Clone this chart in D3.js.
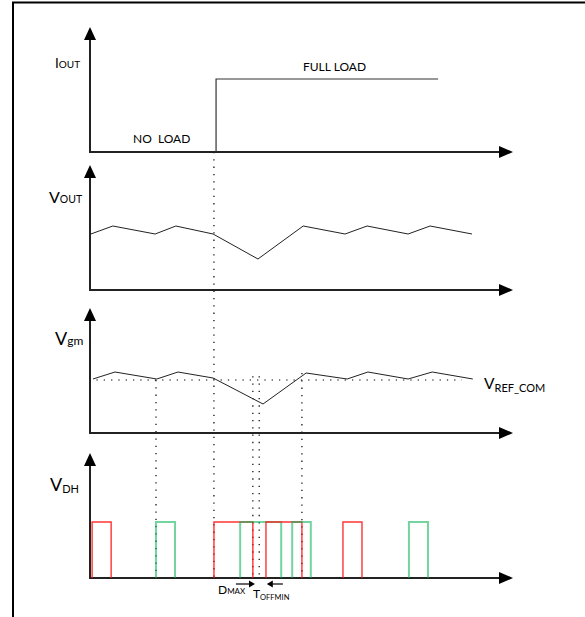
<!DOCTYPE html>
<html>
<head>
<meta charset="utf-8">
<script src="https://cdn.jsdelivr.net/npm/d3@7"></script>
<style>
body { margin: 0; background: #fff; }
svg { display: block; font-family: Lato, "Open Sans", sans-serif; }
text { white-space: pre; }
</style>
</head>
<body>
<svg id="chart" width="585" height="617"></svg>
<script>
// time is in arbitrary units (0..100), levels are 0..10 per panel
const iOutT = [29.8, 29.8, 82.3]
const iOutV = [0, 5.84, 5.84]

const vOutT = [0.2, 5.4, 15.4, 20.3, 29.1, 39.7, 50.4, 60.3, 65.5, 75.2, 80.4, 90.3]
const vOutV = [4.48, 5.12, 4.48, 5.12, 4.48, 2.48, 5.12, 4.48, 5.12, 4.48, 5.12, 4.48]

const vgmT = [0.7, 5.9, 15.8, 20.8, 29.1, 40.9, 51.1, 60.8, 65.7, 75.2, 80.9, 90.5]
const vgmV = [4.32, 4.88, 4.32, 4.88, 4.4, 2.32, 4.8, 4.32, 4.88, 4.32, 4.88, 4.32]
const vRef = 4.24
const vRefSpan = [-0.2, 87.9]

// DH pulses [start, end], drawn in time order
const pulses = [
	{ c: "red", s: 0.5, e: 5.0 },
	{ c: "green", s: 15.6, e: 20.1 },
	{ c: "red", s: 29.3, e: 38.5 },
	{ c: "green", s: 35.5, e: 45.2 },
	{ c: "red", s: 41.6, e: 50.1 },
	{ c: "green", s: 47.8, e: 52.2 },
	{ c: "red", s: 59.8, e: 64.3 },
	{ c: "green", s: 75.4, e: 79.9 }
]
const pulseHigh = 4.48

// dotted guide lines: time, and the panel/level they start from
const guides = [
	{ t: 15.6, from: "vgm", v: vRef },
	{ t: 29.3, from: "iout", v: 0 },
	{ t: 38.5, from: "vgm", v: 4.55 },
	{ t: 40.0, from: "vgm", v: 4.55 },
	{ t: 50.1, from: "vgm", v: 4.8 }
]

const dMaxArrow = [34.5, 39.0]
const tOffArrow = [45.6, 41.8]
const arrowLevel = -0.48

const svg = d3.select("#chart")

let x = d3.scaleLinear().domain([0, 100]).range([90, 513])

let baseY = { iout: 152, vout: 290, vgm: 433, vdh: 578 }
let y = {}
Object.keys(baseY).forEach(k => {
	y[k] = d3.scaleLinear().domain([0, 10]).range([baseY[k], baseY[k] - 125])
})

// frame
svg.append("line").attr("x1", 12).attr("x2", 585).attr("y1", 2.5).attr("y2", 2.5)
	.attr("stroke", "#000").attr("stroke-width", 2)
svg.append("line").attr("x1", 13).attr("x2", 13).attr("y1", 2).attr("y2", 617)
	.attr("stroke", "#000").attr("stroke-width", 2)

// dotted guides (behind everything)
let gGuide = svg.append("g")
guides.forEach(d => {
	gGuide.append("line")
		.attr("x1", x(d.t)).attr("x2", x(d.t))
		.attr("y1", y[d.from](d.v)).attr("y2", y.vdh(0))
		.attr("stroke", "#000")
		.attr("stroke-width", 1.2)
		.attr("stroke-dasharray", "1.3,6")
})

gGuide.append("line")
	.attr("x1", x(vRefSpan[0])).attr("x2", x(vRefSpan[1]))
	.attr("y1", y.vgm(vRef)).attr("y2", y.vgm(vRef))
	.attr("stroke", "#000")
	.attr("stroke-width", 1.2)
	.attr("stroke-dasharray", "1.3,6")

// axes
Object.keys(baseY).forEach(k => {
	let g = svg.append("g").attr("class", "axis")
	let y0 = y[k](0)
	let top = y[k](10)
	let tip = x(100)
	g.append("line").attr("x1", x(0)).attr("x2", tip - 6).attr("y1", y0).attr("y2", y0)
		.attr("stroke", "#222").attr("stroke-width", 2)
	g.append("line").attr("x1", x(0)).attr("x2", x(0)).attr("y1", y0 + 1).attr("y2", top + 6)
		.attr("stroke", "#222").attr("stroke-width", 2)
	g.append("path")
		.attr("d", `M${tip},${y0}L${tip - 14},${y0 - 6}L${tip - 14},${y0 + 6}Z`)
		.attr("fill", "#000")
	g.append("path")
		.attr("d", `M${x(0)},${top}L${x(0) - 6},${top + 13}L${x(0) + 6},${top + 13}Z`)
		.attr("fill", "#000")
})

// waveforms
let line = (yy) => d3.line().x(d => x(d[0])).y(d => yy(d[1]))

svg.append("path")
	.datum(d3.zip(iOutT, iOutV))
	.attr("d", line(y.iout))
	.attr("fill", "none").attr("stroke", "#333").attr("stroke-width", 1.2)

svg.append("path")
	.datum(d3.zip(vOutT, vOutV))
	.attr("d", line(y.vout))
	.attr("fill", "none").attr("stroke", "#222").attr("stroke-width", 1)

svg.append("path")
	.datum(d3.zip(vgmT, vgmV))
	.attr("d", line(y.vgm))
	.attr("fill", "none").attr("stroke", "#222").attr("stroke-width", 1)

// pulses
svg.append("g").selectAll("path")
	.data(pulses)
	.enter()
		.append("path")
		.attr("d", d => `M${x(d.s)},${y.vdh(0)}V${y.vdh(pulseHigh)}H${x(d.e)}V${y.vdh(0)}`)
		.attr("fill", "none")
		.attr("stroke", d => d.c == "red" ? "#ff1010" : "#00b050")
		.attr("stroke-opacity", d => d.c == "red" ? 0.85 : 0.55)
		.attr("stroke-width", d => d.c == "red" ? 1.4 : 2)

// Dmax / Toffmin arrows
function hArrow(from, to) {
	let yy = y.vdh(arrowLevel)
	let dir = to > from ? 1 : -1
	let xt = x(to)
	svg.append("line").attr("x1", x(from)).attr("x2", xt - dir * 4).attr("y1", yy).attr("y2", yy)
		.attr("stroke", "#000").attr("stroke-width", 1.2)
	svg.append("path")
		.attr("d", `M${xt},${yy}L${xt - dir * 6},${yy - 3.5}L${xt - dir * 6},${yy + 3.5}Z`)
		.attr("fill", "#000")
}
hArrow(dMaxArrow[0], dMaxArrow[1])
hArrow(tOffArrow[0], tOffArrow[1])

// labels
function label(px, py, main, sub, size, subSize, subDy) {
	let t = svg.append("text").attr("x", px).attr("y", py).attr("fill", "#000")
	t.append("tspan").attr("font-size", size).text(main)
	if (sub) t.append("tspan").attr("font-size", subSize).attr("dy", subDy || 0).text(sub)
	return t
}

label(55, 68, "I", "OUT", 13.5, 10, 0)
label(49, 203, "V", "OUT", 16, 10.5, 0)
label(55, 345, "V", "gm", 18, 12, 0)
label(50, 491, "V", "DH", 18, 11, 2)
label(484, 389, "V", "REF_COM", 15.5, 11, 3)
label(218, 594, "D", "MAX", 12, 8, 0)
label(253, 598, "T", "OFFMIN", 12, 7.5, 2)

svg.append("text").attr("x", 133).attr("y", 143).attr("font-size", 12).attr("fill", "#000")
	.text("NO  LOAD")
svg.append("text").attr("x", 303).attr("y", 71).attr("font-size", 12).attr("fill", "#000")
	.text("FULL LOAD")
</script>
</body>
</html>
